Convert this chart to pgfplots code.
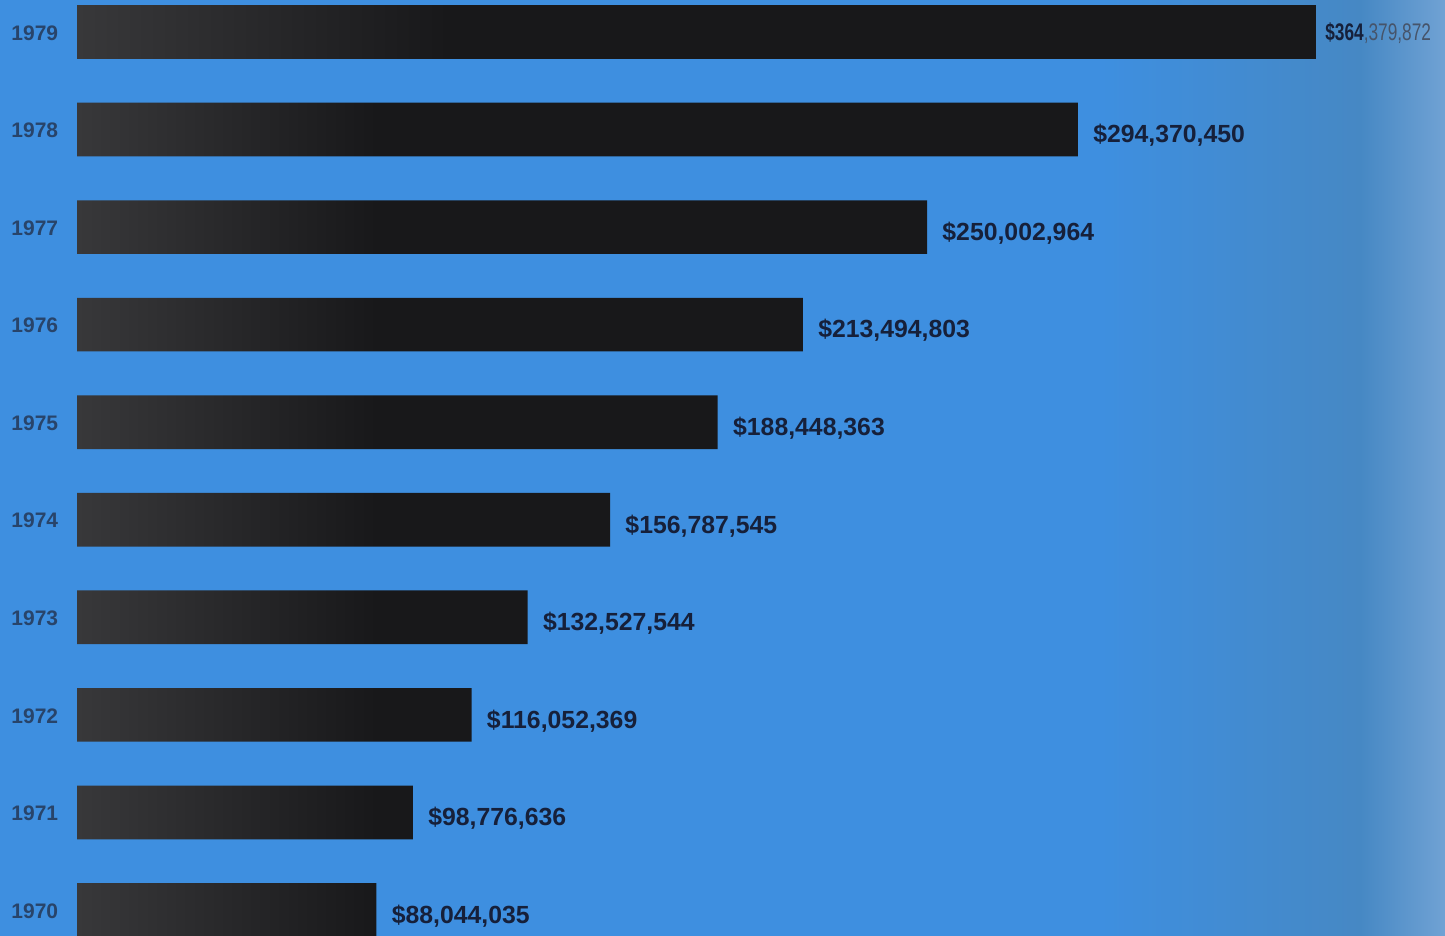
\documentclass[border=0pt]{standalone}
\usepackage{pgfplots}
\pgfplotsset{compat=1.18}
\usepackage{fontspec}
\setmainfont{Liberation Sans}
\newfontfamily\condfont[FakeStretch=0.72]{Liberation Sans}
\definecolor{bgblue}{RGB}{62,143,224}
\definecolor{bgsteel}{RGB}{70,136,196}
\definecolor{bglight}{RGB}{112,162,212}
\definecolor{barlight}{RGB}{56,56,58}
\definecolor{bardark}{RGB}{24,24,26}
\definecolor{labnavy}{RGB}{22,32,58}
\definecolor{yearcol}{RGB}{40,68,106}
\definecolor{labgray}{RGB}{70,84,106}
\pgfdeclarehorizontalshading{barshade}{100bp}{color(0bp)=(barlight); color(25bp)=(barlight); color(40bp)=(bardark); color(100bp)=(bardark)}

\begin{document}
\begin{tikzpicture}
\fill[bgblue] (0,0) rectangle (722.5pt,468pt);
\shade[left color=bgblue, right color=bgsteel] (550pt,0) rectangle (680pt,468pt);
\shade[left color=bgsteel, right color=bglight] (680pt,0) rectangle (722.5pt,468pt);
\begin{axis}[
  at={(0,0)}, anchor=south west,
  scale only axis, width=722.5pt, height=468pt,
  xmin=-22.65, xmax=402.35, ymin=1969.7335, ymax=1979.328,
  axis line style={draw=none}, major tick length=0pt,
  xtick=\empty,
  ytick={1970,1971,1972,1973,1974,1975,1976,1977,1978,1979},
  yticklabels={1970,1971,1972,1973,1974,1975,1976,1977,1978,1979},
  yticklabel style={anchor=west, inner sep=0pt, xshift=5.5pt, yshift=-0.5pt, font=\bfseries\fontsize{10.5}{12}\selectfont, text=yearcol},
  xbar, bar width=0.55, bar shift=0,
  clip=false,
]
\addplot[draw=none, shade, shading=barshade, bar shift=0,
  nodes near coords, point meta=explicit symbolic,
  every node near coord/.append style={anchor=west, inner sep=0pt, xshift=7.5pt, yshift=-3pt, font=\bfseries\fontsize{12.4}{14}\selectfont, text=labnavy}]
coordinates {
(294.370450,1978) [\$294,370,450]
(250.002964,1977) [\$250,002,964]
(213.494803,1976) [\$213,494,803]
(188.448363,1975) [\$188,448,363]
(156.787545,1974) [\$156,787,545]
(132.527544,1973) [\$132,527,544]
(116.052369,1972) [\$116,052,369]
(98.776636,1971) [\$98,776,636]
(88.044035,1970) [\$88,044,035]
};
\addplot[draw=none, shade, shading=barshade, bar shift=0,
  nodes near coords, point meta=explicit symbolic,
  every node near coord/.append style={anchor=west, inner sep=0pt, xshift=4.5pt, yshift=-0.5pt, font=\condfont\fontsize{12}{14}\selectfont, text=labgray}]
coordinates {
(364.379872,1979) [{\textcolor{labnavy}{\bfseries\$364},}379,872]
};
\end{axis}
\pgfresetboundingbox
\path[use as bounding box] (0,0) rectangle (722.5pt,468pt);
\end{tikzpicture}
\end{document}
